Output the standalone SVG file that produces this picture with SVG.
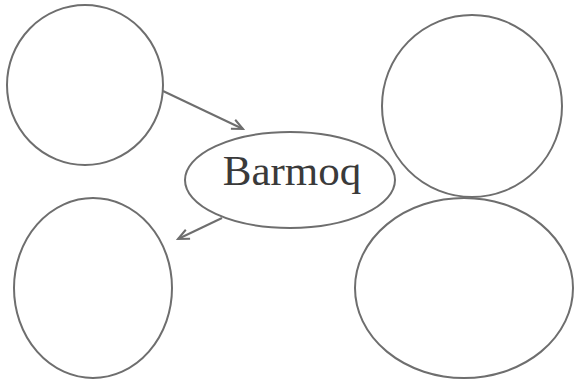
<svg xmlns="http://www.w3.org/2000/svg" width="574" height="380" viewBox="0 0 574 380">
<style>
.n{fill:none;stroke:#6e6e6e;stroke-width:2}
.c{fill:none;stroke:#6e6e6e;stroke-width:2}
.t{font-family:"Liberation Serif",serif;font-size:43px;fill:#3a3a3a}
</style>
<defs>
<marker id="ah" markerWidth="14" markerHeight="12" refX="12" refY="6" orient="auto" markerUnits="userSpaceOnUse">
<polyline points="1,1 12,6 1,11" fill="none" stroke="#6e6e6e" stroke-width="2"/>
</marker>
</defs>
<rect width="574" height="380" fill="#ffffff"/>
<g id="topLeft"><ellipse class="n" cx="85" cy="85" rx="78" ry="80"/></g>
<g id="topRight"><ellipse class="n" cx="472" cy="106" rx="90" ry="91"/></g>
<g id="bottomLeft"><ellipse class="n" cx="93" cy="288" rx="79" ry="90"/></g>
<g id="bottomRight"><ellipse class="n" cx="464" cy="288" rx="109" ry="90"/></g>
<g id="barmoq"><ellipse class="n" cx="290" cy="180" rx="105" ry="48"/><text class="t" x="292" y="185" text-anchor="middle">Barmoq</text></g>
<g id="connectors">
<line class="c" x1="163" y1="91" x2="243" y2="129" marker-end="url(#ah)"/>
<line class="c" x1="222" y1="218" x2="178" y2="239" marker-end="url(#ah)"/>
</g>
</svg>
